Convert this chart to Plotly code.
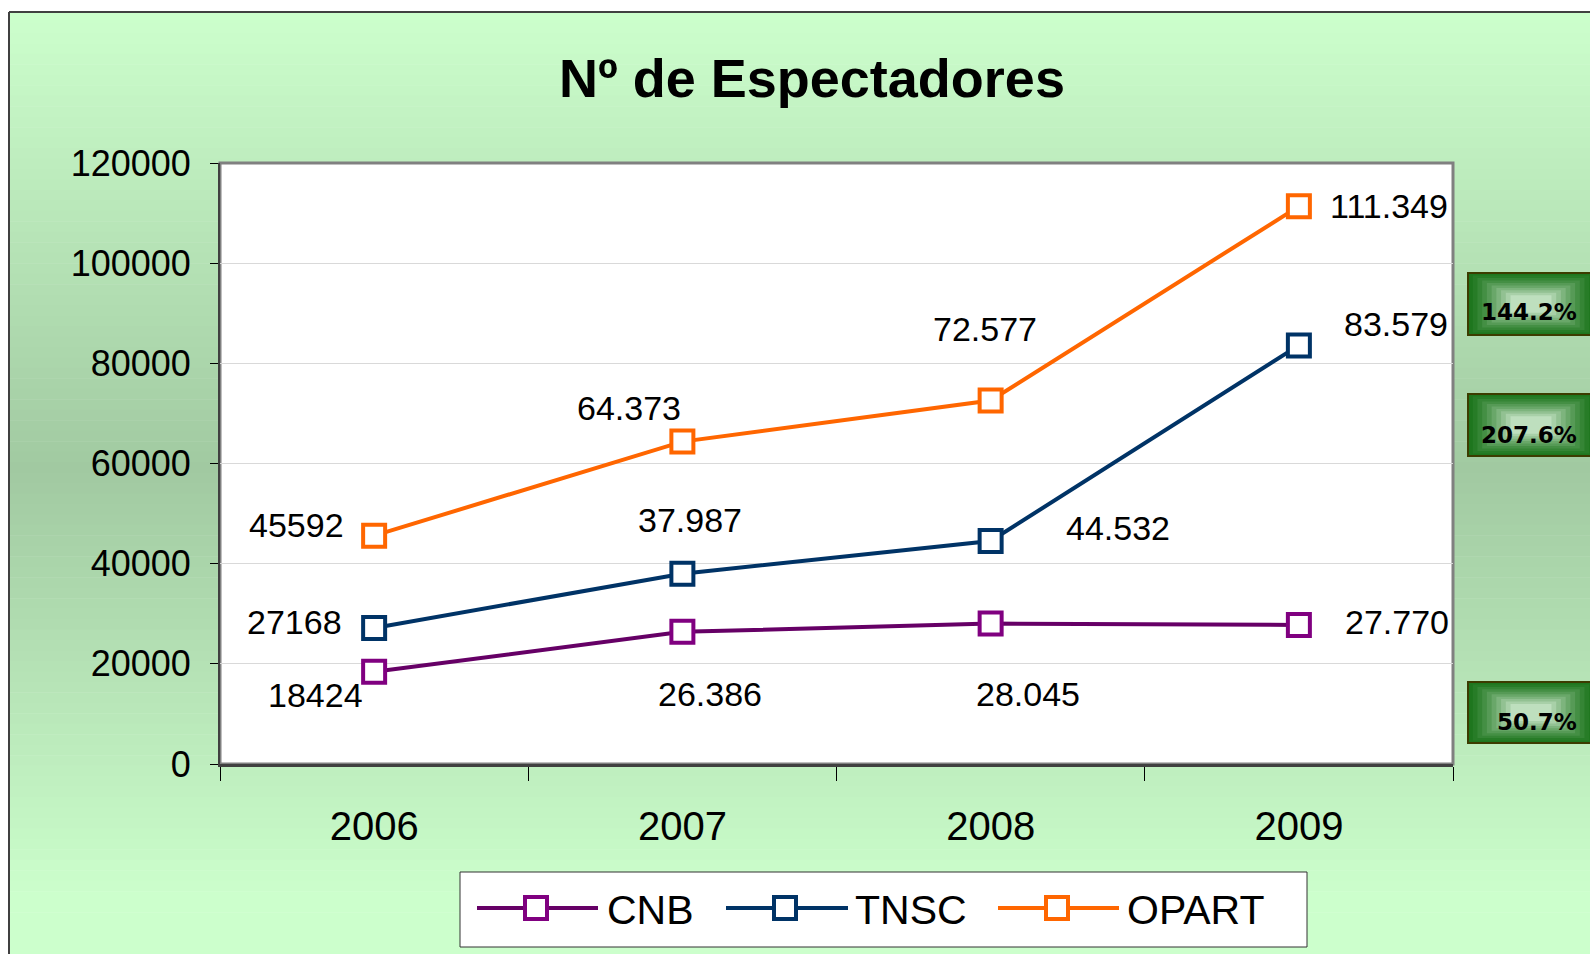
import plotly.graph_objects as go

# ---------------- data ----------------
YEARS = ["2006", "2007", "2008", "2009"]
SERIES = ["CNB", "TNSC", "OPART"]
CNB = [18424, 26386, 28045, 27770]
TNSC = [27168, 37987, 44532, 83579]
OPART = [45592, 64373, 72577, 111349]
CNB_LABELS = ["18424", "26.386", "28.045", "27.770"]
TNSC_LABELS = ["27168", "37.987", "44.532", "83.579"]
OPART_LABELS = ["45592", "64.373", "72.577", "111.349"]
Y_TICKS = [0, 20000, 40000, 60000, 80000, 100000, 120000]
TITLE = "Nº de Espectadores"

# ---------------- style ----------------
W, H = 1590, 954
L, R, T, B = 220, 1453, 163, 764
FONT = "Liberation Sans, Arial, Helvetica, sans-serif"
LINE_COL = {"CNB": "#660066", "TNSC": "#003366", "OPART": "#FF6600"}
EDGE_COL = {"CNB": "#800080", "TNSC": "#003366", "OPART": "#FF6600"}
# label offsets (dx right, dy down) in pixels from each point
LABEL_OFF = {
    "CNB": [(-59, 23), (28, 62), (37, 70), (98, -3)],
    "TNSC": [(-80, -6), (8, -54), (127, -13), (97, -21)],
    "OPART": [(-78, -11), (-53, -34), (-6, -72), (90, 0)],
}
# legend layout: (line x0, line x1, marker cx, text x)
LEG_POS = {"CNB": (477, 598, 536, 609), "TNSC": (726, 848, 785, 857),
           "OPART": (998, 1119, 1057, 1129)}
LEG_BOX = (460, 872, 1307, 947)
LEG_CY = 908
# growth boxes (y0, y1, text y)
BOX_POS = {"OPART": (273, 335, 312), "TNSC": (394, 456, 435), "CNB": (682, 743, 722)}
BOX_X = (1468, 1594)


def PX(px):
    return (px - L) / (R - L)


def PY(py):
    return (B - py) / (B - T)


values = {"CNB": CNB, "TNSC": TNSC, "OPART": OPART}
labels = {"CNB": CNB_LABELS, "TNSC": TNSC_LABELS, "OPART": OPART_LABELS}

fig = go.Figure()
for s in SERIES:
    fig.add_trace(go.Scatter(
        x=YEARS, y=values[s], name=s, mode="lines+markers",
        line=dict(color=LINE_COL[s], width=4),
        marker=dict(symbol="square", size=22, color="white",
                    line=dict(color=EDGE_COL[s], width=4)),
        showlegend=False, hoverinfo="skip"))

shapes = []
annotations = []


def lerp(c0, c1, t):
    return tuple(int(round(a + (b - a) * t)) for a, b in zip(c0, c1))


def rgb(c):
    return "rgb(%d,%d,%d)" % c


# background gradient of chart area
LIGHT = (204, 255, 204)
DARK = (161, 201, 161)
y_top, y_mid, y_bot = 12, 470, 900
n = 90
for i in range(n):
    y0 = 12 + (H - 12) * i / n
    y1 = 12 + (H - 12) * (i + 1) / n + 0.5
    yc = (y0 + y1) / 2
    if yc <= y_mid:
        t = (yc - y_top) / (y_mid - y_top)
    else:
        t = max(0.0, (y_bot - yc) / (y_bot - y_mid))
    c = lerp(LIGHT, DARK, t)
    shapes.append(dict(type="rect", xref="paper", yref="paper", layer="below",
                       x0=PX(9), x1=PX(W + 5), y0=PY(y0), y1=PY(y1),
                       fillcolor=rgb(c), line=dict(width=0)))
# frame border
shapes.append(dict(type="line", xref="paper", yref="paper", layer="below",
                   x0=PX(9), x1=PX(W + 5), y0=PY(12), y1=PY(12),
                   line=dict(color="#404040", width=2)))
shapes.append(dict(type="line", xref="paper", yref="paper", layer="below",
                   x0=PX(9), x1=PX(9), y0=PY(12), y1=PY(H + 5),
                   line=dict(color="#404040", width=2)))
# plot area
shapes.append(dict(type="rect", xref="paper", yref="paper", layer="below",
                   x0=0, x1=1, y0=0, y1=1, fillcolor="white",
                   line=dict(color="#808080", width=3)))

# legend box
lx0, ly0, lx1, ly1 = LEG_BOX
shapes.append(dict(type="rect", xref="paper", yref="paper", layer="above",
                   x0=PX(lx0), x1=PX(lx1), y0=PY(ly0), y1=PY(ly1),
                   fillcolor="white", line=dict(color="#333333", width=1)))
for s in SERIES:
    x0, x1, cx, tx = LEG_POS[s]
    shapes.append(dict(type="line", xref="paper", yref="paper", layer="above",
                       x0=PX(x0), x1=PX(x1), y0=PY(LEG_CY), y1=PY(LEG_CY),
                       line=dict(color=LINE_COL[s], width=4)))
    shapes.append(dict(type="rect", xref="paper", yref="paper", layer="above",
                       x0=PX(cx - 11), x1=PX(cx + 11), y0=PY(LEG_CY - 11), y1=PY(LEG_CY + 11),
                       fillcolor="white", line=dict(color=EDGE_COL[s], width=4)))
    annotations.append(dict(xref="paper", yref="paper", x=PX(tx - 4), y=PY(LEG_CY + 2),
                            xanchor="left", yanchor="middle", showarrow=False, text=s,
                            font=dict(family=FONT, size=41, color="black")))

# growth boxes
EDGE = (30, 118, 30)
CENTER = (214, 238, 214)
for s in SERIES:
    y0, y1, ty = BOX_POS[s]
    bx0, bx1 = BOX_X
    nl = 10
    hw, hh = (bx1 - bx0) / 2, (y1 - y0) / 2
    cxp, cyp = (bx0 + bx1) / 2, (y0 + y1) / 2
    for k in range(nl):
        t = k / nl
        c = lerp(EDGE, CENTER, t ** 1.3)
        sx = hw * (1 - t * 0.75)
        sy = hh * (1 - t * 0.8)
        shapes.append(dict(type="rect", xref="paper", yref="paper", layer="above",
                           x0=PX(cxp - sx), x1=PX(cxp + sx), y0=PY(cyp - sy), y1=PY(cyp + sy),
                           fillcolor=rgb(c), line=dict(width=0)))
    shapes.append(dict(type="rect", xref="paper", yref="paper", layer="above",
                       x0=PX(bx0), x1=PX(bx1), y0=PY(y0), y1=PY(y1),
                       fillcolor="rgba(0,0,0,0)", line=dict(color="#3C3C00", width=2)))
    v = values[s]
    growth = "%.1f%%" % ((v[-1] / v[0] - 1) * 100)
    annotations.append(dict(xref="paper", yref="paper", x=PX(1579), y=PY(ty),
                            xanchor="right", yanchor="middle", showarrow=False, text=growth,
                            font=dict(family="DejaVu Sans, Verdana, sans-serif", size=23,
                                      color="black", weight="bold")))

# data labels (x given as category index)
for s in SERIES:
    for i, yr in enumerate(YEARS):
        dx, dy = LABEL_OFF[s][i]
        annotations.append(dict(xref="x", yref="y", x=YEARS.index(yr), y=values[s][i],
                                xshift=dx, yshift=-dy, showarrow=False,
                                text=labels[s][i], xanchor="center", yanchor="middle",
                                font=dict(family=FONT, size=34, color="black")))

# title
annotations.append(dict(xref="paper", yref="paper", x=PX(812), y=PY(78),
                        xanchor="center", yanchor="middle", showarrow=False,
                        text="<b>" + TITLE + "</b>",
                        font=dict(family=FONT, size=54, color="black")))

fig.update_layout(
    width=W, height=H, autosize=False,
    margin=dict(l=L, r=W - R, t=T, b=H - B, pad=0),
    paper_bgcolor="white", plot_bgcolor="white",
    shapes=shapes, annotations=annotations,
    showlegend=False,
    xaxis=dict(type="category", categoryorder="array", categoryarray=YEARS,
               range=[-0.5, 3.5], tickson="boundaries", ticks="outside",
               ticklen=14, tickwidth=1, tickcolor="black", showgrid=False,
               showline=True, linecolor="#404040", linewidth=3,
               tickfont=dict(family=FONT, size=40, color="black"),
               ticklabelstandoff=25, zeroline=False),
    yaxis=dict(range=[0, 120000], tickvals=Y_TICKS, tickformat="d",
               ticks="outside", ticklen=8, tickwidth=1, tickcolor="black",
               showgrid=True, gridcolor="#D9D9D9", gridwidth=1,
               showline=True, linecolor="#404040", linewidth=2,
               tickfont=dict(family=FONT, size=36, color="black"),
               ticklabelstandoff=12, zeroline=False),
)

fig.write_html("out.html", config={"displayModeBar": False},
               post_script="document.body.style.margin='0px';"
                           "document.body.style.overflow='hidden';")
